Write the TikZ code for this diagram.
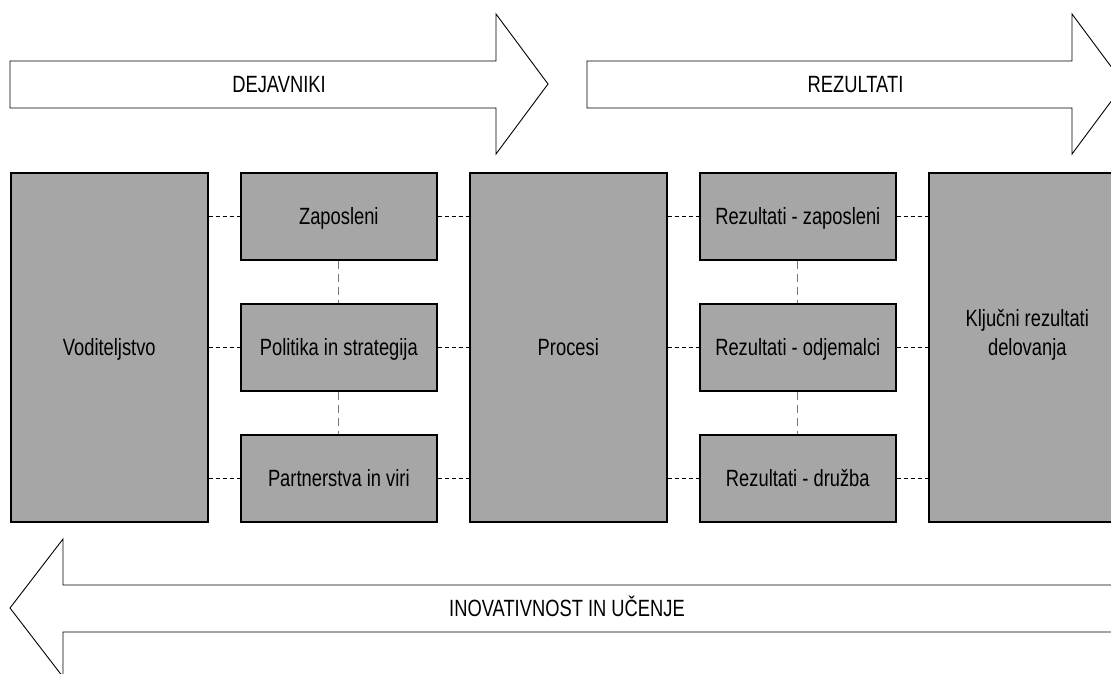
\documentclass[tikz,border=0pt]{standalone}
\usepackage{fontspec}
\setmainfont{Liberation Sans}[FakeStretch=0.78]
\definecolor{boxgray}{RGB}{166,166,166}
\definecolor{dashgray}{RGB}{120,120,120}
\begin{document}
\begin{tikzpicture}[x=1pt,y=-1pt,
  txt/.style={font=\fontsize{23.5}{29}\selectfont, text height=17pt, text depth=0pt, align=center, inner sep=0pt},
  bigbox/.style={txt, draw=black, line width=1.6pt, fill=boxgray, anchor=north west, minimum width=197pt, minimum height=349pt},
  smallbox/.style={txt, draw=black, line width=1.6pt, fill=boxgray, anchor=north west, minimum width=196pt, minimum height=87pt},
  bigarrow/.style={draw=black, line width=0.9pt, fill=white, line join=miter},
  hdash/.style={draw=black, line width=0.8pt, dash pattern=on 4pt off 3pt},
  vdash/.style={draw=dashgray, line width=0.8pt, dash pattern=on 8pt off 5pt},
  lbl/.style={txt}
]
\useasboundingbox (0,0) rectangle (1111,673);
\clip (0,0) rectangle (1111,673);

% top arrows
\draw[bigarrow] (10,61) -- (496,61) -- (496,14) -- (548,84) -- (496,154) -- (496,108) -- (10,108) -- cycle;
\node[lbl] (dej) at (279,84) {DEJAVNIKI};
\draw[bigarrow] (587,61) -- (1072,61) -- (1072,14) -- (1124,84) -- (1072,154) -- (1072,108) -- (587,108) -- cycle;
\node[lbl] (rez) at (855.5,84) {REZULTATI};

% bottom arrow
\draw[bigarrow] (1130,585) -- (63,585) -- (63,539) -- (10,608) -- (63,677) -- (63,632) -- (1130,632) -- cycle;
\node[lbl] (ino) at (567,608) {INOVATIVNOST IN UČENJE};

% boxes
\node[bigbox] (vod) at (10,172) {Voditeljstvo};
\node[smallbox] (zap) at (240,172) {Zaposleni};
\node[smallbox] (pol) at (240,303) {Politika in strategija};
\node[smallbox] (par) at (240,434) {Partnerstva in viri};
\node[bigbox] (pro) at (469,172) {Procesi};
\node[smallbox] (rzap) at (699,172) {Rezultati - zaposleni};
\node[smallbox] (rodj) at (699,303) {Rezultati - odjemalci};
\node[smallbox] (rdru) at (699,434) {Rezultati - družba};
\node[bigbox] (klj) at (928,172) {Ključni rezultati\\delovanja};

% horizontal dashed connectors
\foreach \s in {zap,pol,par}{
  \draw[hdash] (vod.east |- \s.west) -- (\s.west);
  \draw[hdash] (\s.east) -- (pro.west |- \s.east);
}
\foreach \s in {rzap,rodj,rdru}{
  \draw[hdash] (pro.east |- \s.west) -- (\s.west);
  \draw[hdash] (\s.east) -- (klj.west |- \s.east);
}
% vertical dashed connectors
\draw[vdash] (zap.south) -- (pol.north);
\draw[vdash] (pol.south) -- (par.north);
\draw[vdash] (rzap.south) -- (rodj.north);
\draw[vdash] (rodj.south) -- (rdru.north);
\end{tikzpicture}
\end{document}
